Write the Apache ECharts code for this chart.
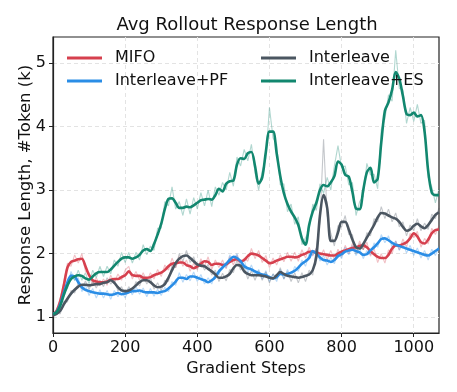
<!DOCTYPE html>
<html>
<head>
<meta charset="utf-8">
<script src="https://cdn.jsdelivr.net/npm/echarts@6/dist/echarts.min.js"></script>
<style>
    html, body { margin: 0; padding: 0; background: #fff; }
    #chart { width: 457px; height: 392px; }
</style>
</head>
<body>
<div id="chart"></div>
<script>
// gradient steps, one point every 10 steps
var steps = [
    0,10,20,30,40,50,60,70,80,90,
    100,110,120,130,140,150,160,170,180,190,
    200,210,220,230,240,250,260,270,280,290,
    300,310,320,330,340,350,360,370,380,390,
    400,410,420,430,440,450,460,470,480,490,
    500,510,520,530,540,550,560,570,580,590,
    600,610,620,630,640,650,660,670,680,690,
    700,710,720,730,740,750,760,770,780,790,
    800,810,820,830,840,850,860,870,880,890,
    900,910,920,930,940,950,960,970,980,990,
    1000,1010,1020,1030,1040,1050,1060,1070
];

// smoothed curves (bold lines), k tokens
var mifo = [
    1.05,1.1,1.25,1.5,1.78,1.87,1.89,1.91,1.92,1.8,
    1.66,1.58,1.56,1.55,1.55,1.56,1.59,1.6,1.6,1.63,
    1.66,1.72,1.66,1.65,1.65,1.62,1.62,1.63,1.66,1.68,
    1.7,1.74,1.8,1.84,1.85,1.86,1.86,1.82,1.8,1.77,
    1.8,1.84,1.88,1.87,1.82,1.84,1.84,1.82,1.83,1.87,
    1.9,1.91,1.88,1.9,1.96,2.0,1.99,1.97,1.93,1.89,
    1.85,1.86,1.89,1.91,1.93,1.95,1.95,1.94,1.95,1.98,
    2.0,2.03,2.03,2.02,2.0,1.99,1.98,1.97,1.97,2.0,
    2.03,2.05,2.07,2.09,2.1,2.12,2.13,2.1,2.04,1.99,
    1.95,1.93,1.93,1.98,2.08,2.13,2.13,2.15,2.18,2.24,
    2.32,2.27,2.18,2.16,2.22,2.32,2.37,2.38
];
var interleavePF = [
    1.05,1.08,1.2,1.38,1.55,1.65,1.64,1.55,1.47,1.43,
    1.41,1.39,1.38,1.37,1.37,1.36,1.35,1.36,1.38,1.36,
    1.37,1.39,1.41,1.41,1.42,1.4,1.39,1.39,1.39,1.38,
    1.4,1.41,1.45,1.5,1.56,1.62,1.62,1.6,1.64,1.64,
    1.62,1.6,1.58,1.55,1.58,1.63,1.72,1.78,1.84,1.9,
    1.95,1.93,1.88,1.8,1.77,1.75,1.72,1.69,1.67,1.66,
    1.63,1.61,1.63,1.68,1.67,1.68,1.7,1.73,1.78,1.84,
    1.88,1.93,2.04,2.0,1.94,1.9,1.89,1.87,1.9,1.96,
    1.99,2.03,2.05,2.06,2.04,2.02,1.98,1.99,2.05,2.1,
    2.16,2.23,2.24,2.21,2.17,2.14,2.12,2.1,2.08,2.06,
    2.04,2.02,2.0,1.98,1.97,2.0,2.04,2.08
];
var interleave = [
    1.03,1.05,1.1,1.2,1.29,1.37,1.43,1.48,1.51,1.51,
    1.5,1.51,1.52,1.52,1.54,1.55,1.58,1.54,1.47,1.42,
    1.41,1.42,1.45,1.5,1.55,1.58,1.58,1.55,1.5,1.47,
    1.48,1.52,1.62,1.74,1.85,1.92,1.96,1.97,1.93,1.88,
    1.83,1.81,1.8,1.76,1.72,1.67,1.62,1.62,1.64,1.68,
    1.77,1.82,1.81,1.72,1.68,1.66,1.66,1.66,1.65,1.64,
    1.62,1.61,1.66,1.71,1.68,1.65,1.64,1.63,1.62,1.63,
    1.65,1.67,1.74,1.95,2.6,2.92,2.72,2.2,2.2,2.33,
    2.5,2.5,2.38,2.22,2.1,2.08,2.15,2.25,2.35,2.45,
    2.57,2.64,2.63,2.6,2.57,2.55,2.5,2.42,2.36,2.38,
    2.44,2.47,2.43,2.4,2.45,2.53,2.61,2.65
];
var interleaveES = [
    1.05,1.08,1.18,1.35,1.5,1.6,1.64,1.66,1.65,1.61,
    1.59,1.64,1.69,1.71,1.71,1.71,1.75,1.81,1.87,1.92,
    1.94,1.94,1.92,1.94,1.98,2.05,2.07,2.04,2.15,2.3,
    2.47,2.7,2.86,2.87,2.8,2.72,2.72,2.74,2.73,2.76,
    2.8,2.84,2.85,2.86,2.85,2.92,3.02,2.98,3.1,3.14,
    3.15,3.4,3.5,3.49,3.58,3.6,3.38,3.1,3.2,3.6,
    3.92,3.92,3.58,3.22,2.95,2.78,2.66,2.57,2.45,2.24,
    2.14,2.45,2.66,2.8,3.0,3.08,3.06,3.12,3.22,3.45,
    3.4,3.24,3.21,2.97,2.71,2.7,3.0,3.28,3.35,3.12,
    3.18,3.75,4.25,4.38,4.58,4.86,4.75,4.48,4.2,4.18,
    4.22,4.16,4.18,3.92,3.3,2.96,2.92,2.92
];

// raw (unsmoothed) values, drawn faint behind
var mifoRaw = [
    1.0,1.12,1.3,1.55,1.85,1.8,1.98,1.85,2.0,1.72,
    1.7,1.52,1.62,1.5,1.6,1.5,1.66,1.55,1.68,1.58,
    1.74,1.8,1.6,1.72,1.58,1.7,1.56,1.7,1.6,1.75,
    1.64,1.82,1.74,1.93,1.78,1.95,1.8,1.9,1.72,1.85,
    1.74,1.92,1.8,1.95,1.75,1.9,1.78,1.9,1.76,1.95,
    1.82,1.98,1.8,1.93,1.88,2.08,1.92,2.05,1.86,1.97,
    1.78,1.93,1.82,1.98,1.87,2.02,1.88,2.02,1.88,2.06,
    1.93,2.1,1.96,2.09,1.93,2.06,1.9,2.05,1.9,2.07,
    1.96,2.13,2.0,2.16,2.03,2.2,2.06,2.18,1.96,2.08,
    1.86,2.0,1.85,2.06,2.0,2.2,2.06,2.23,2.1,2.32,
    2.25,2.35,2.1,2.24,2.15,2.4,2.3,2.44
];
var interleavePFRaw = [
    1.02,1.1,1.17,1.42,1.5,1.72,1.58,1.62,1.4,1.5,
    1.34,1.45,1.3,1.43,1.3,1.42,1.28,1.42,1.32,1.42,
    1.3,1.45,1.35,1.48,1.36,1.46,1.32,1.45,1.33,1.44,
    1.34,1.47,1.4,1.56,1.5,1.7,1.55,1.67,1.57,1.71,
    1.56,1.67,1.52,1.62,1.52,1.7,1.66,1.85,1.78,1.98,
    1.88,2.0,1.82,1.9,1.7,1.82,1.66,1.75,1.6,1.73,
    1.56,1.68,1.56,1.75,1.6,1.75,1.63,1.8,1.72,1.9,
    1.8,2.0,1.98,2.08,1.88,1.97,1.82,1.94,1.84,2.03,
    1.92,2.1,1.98,2.13,1.97,2.08,1.92,2.05,1.98,2.17,
    2.1,2.3,2.17,2.28,2.1,2.2,2.05,2.17,2.01,2.13,
    1.97,2.09,1.93,2.05,1.9,2.07,1.97,2.12
];
var interleaveRaw = [
    1.0,1.08,1.05,1.25,1.24,1.42,1.38,1.54,1.45,1.57,
    1.44,1.57,1.46,1.58,1.48,1.62,1.52,1.6,1.41,1.48,
    1.35,1.48,1.4,1.56,1.49,1.65,1.52,1.62,1.44,1.54,
    1.42,1.58,1.56,1.82,1.78,2.0,1.88,2.05,1.86,1.95,
    1.77,1.88,1.74,1.83,1.66,1.74,1.56,1.69,1.57,1.75,
    1.7,1.9,1.74,1.79,1.6,1.73,1.58,1.73,1.58,1.71,
    1.54,1.68,1.6,1.78,1.6,1.72,1.56,1.7,1.54,1.7,
    1.56,1.74,1.66,2.1,2.5,3.8,2.6,2.32,2.12,2.44,
    2.42,2.6,2.3,2.3,2.0,2.16,2.06,2.33,2.28,2.55,
    2.5,2.74,2.55,2.7,2.5,2.64,2.42,2.5,2.28,2.45,
    2.36,2.55,2.36,2.48,2.38,2.62,2.55,2.72
];
var interleaveESRaw = [
    1.02,1.12,1.14,1.4,1.45,1.68,1.58,1.74,1.58,1.7,
    1.52,1.74,1.62,1.8,1.64,1.8,1.68,1.9,1.8,2.02,
    1.86,2.02,1.85,2.02,1.9,2.14,1.98,2.12,2.05,2.4,
    2.4,2.82,2.75,3.05,2.7,2.82,2.6,2.86,2.62,2.88,
    2.7,2.96,2.75,3.0,2.74,3.05,2.92,3.12,3.0,3.28,
    3.06,3.52,3.38,3.64,3.46,3.72,3.28,3.0,3.3,3.5,
    4.3,3.82,3.72,3.08,3.1,2.66,2.78,2.46,2.58,2.14,
    2.25,2.36,2.78,2.68,3.1,2.95,3.2,3.0,3.38,3.7,
    3.35,3.38,3.08,3.12,2.6,2.82,2.9,3.42,3.24,3.25,
    3.02,3.95,4.12,4.5,4.4,5.2,4.6,4.58,4.05,4.3,
    4.08,4.35,4.05,4.1,3.2,3.05,2.8,3.02
];

var xTicks = [0, 200, 400, 600, 800, 1000];
var yTicks = [1, 2, 3, 4, 5];

var colors = {
    'MIFO': '#d6404e',
    'Interleave+PF': '#2a8de6',
    'Interleave': '#4b5661',
    'Interleave+ES': '#12876f'
};

function pairs(ys) {
    return ys.map(function (v, i) { return [steps[i], v]; });
}

function rawSeries(name, ys) {
    return {
        name: name + ' raw',
        type: 'line',
        data: pairs(ys),
        showSymbol: false,
        silent: true,
        lineStyle: { width: 1.1, color: colors[name], opacity: 0.33 },
        z: 1
    };
}

function mainSeries(name, ys) {
    return {
        name: name,
        type: 'line',
        data: pairs(ys),
        showSymbol: false,
        smooth: 0.3,
        itemStyle: { color: colors[name] },
        lineStyle: { width: 2.6, color: colors[name] },
        z: 3
    };
}

var font = 'DejaVu Sans';
var legendText = { fontFamily: font, fontSize: 16, color: '#111', padding: [0, 0, 0, 8] };

var chartDom = document.getElementById('chart');
var myChart = echarts.init(chartDom, null, { renderer: 'canvas' });
var option = {
    animation: false,
    backgroundColor: '#fff',
    title: {
        text: 'Avg Rollout Response Length',
        left: 247,
        textAlign: 'center',
        top: 16,
        padding: 0,
        textStyle: { fontFamily: font, fontSize: 18, fontWeight: 'normal', color: '#111' }
    },
    legend: [{
        data: ['MIFO', 'Interleave+PF'],
        orient: 'vertical',
        left: 67,
        top: 50,
        padding: 0,
        icon: 'rect',
        itemWidth: 35,
        itemHeight: 3,
        itemGap: 7,
        textStyle: legendText
    }, {
        data: ['Interleave', 'Interleave+ES'],
        orient: 'vertical',
        left: 261,
        top: 50,
        padding: 0,
        icon: 'rect',
        itemWidth: 35,
        itemHeight: 3,
        itemGap: 7,
        textStyle: legendText
    }],
    grid: {
        left: 53,
        right: 18,
        top: 37,
        bottom: 59,
        show: true,
        borderColor: '#222',
        borderWidth: 1.2
    },
    xAxis: {
        type: 'value',
        min: 0,
        max: 1070,
        name: 'Gradient Steps',
        nameLocation: 'middle',
        nameGap: 25,
        nameTextStyle: { fontFamily: font, fontSize: 16, color: '#111' },
        axisLine: { show: true, onZero: false, lineStyle: { color: '#222', width: 1.2 } },
        axisTick: { show: true, inside: false, length: 4, customValues: xTicks, lineStyle: { color: '#222' } },
        axisLabel: {
            fontFamily: font, fontSize: 16, color: '#111', margin: 7,
            customValues: xTicks,
            formatter: function (v) { return String(v); }
        },
        splitLine: { show: true, lineStyle: { color: '#e3e3e3', type: [4, 3], width: 1 } }
    },
    yAxis: {
        type: 'value',
        min: 0.75,
        max: 5.41,
        name: 'Response Length, #Token (k)',
        nameLocation: 'middle',
        nameGap: 19,
        nameMoveOverlap: false,
        nameTextStyle: { fontFamily: font, fontSize: 16.5, color: '#111' },
        axisLine: { show: true, onZero: false, lineStyle: { color: '#222', width: 1.2 } },
        axisTick: { show: true, inside: false, length: 4, customValues: yTicks, lineStyle: { color: '#222' } },
        axisLabel: { fontFamily: font, fontSize: 16, color: '#111', margin: 7, customValues: yTicks },
        splitLine: { show: true, lineStyle: { color: '#e3e3e3', type: [4, 3], width: 1 } }
    },
    series: [
        rawSeries('MIFO', mifoRaw),
        rawSeries('Interleave+PF', interleavePFRaw),
        rawSeries('Interleave', interleaveRaw),
        rawSeries('Interleave+ES', interleaveESRaw),
        mainSeries('MIFO', mifo),
        mainSeries('Interleave+PF', interleavePF),
        mainSeries('Interleave', interleave),
        mainSeries('Interleave+ES', interleaveES)
    ]
};
option && myChart.setOption(option);
</script>
</body>
</html>
